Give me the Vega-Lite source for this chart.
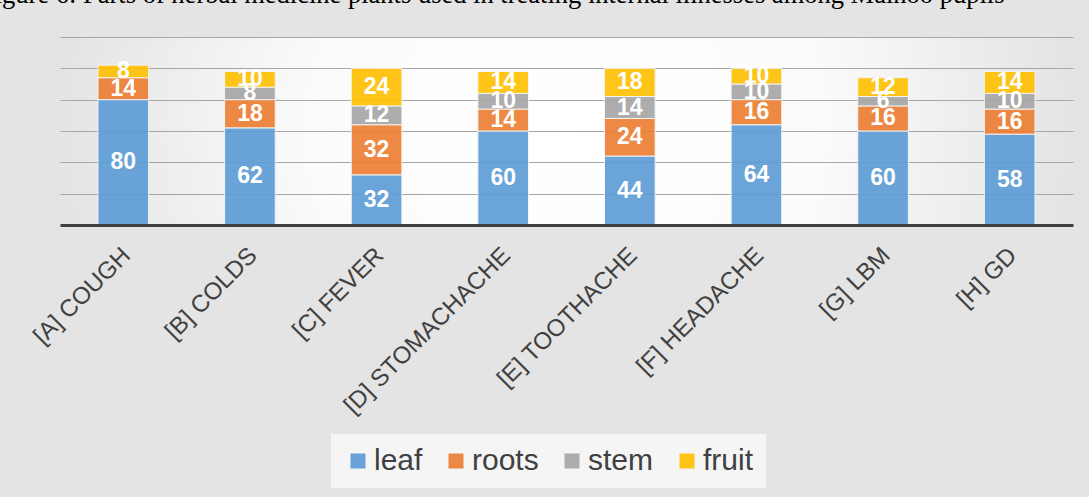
{
  "$schema": "https://vega.github.io/schema/vega-lite/v6.json",
  "width": 1013,
  "height": 188,
  "autosize": {"type": "none"},
  "padding": {"left": 60, "top": 37, "right": 16, "bottom": 272},
  "background": "#e4e4e4",
  "view": {
    "stroke": null,
    "fill": {
      "gradient": "radial",
      "x1": 0.5, "y1": 0.5, "r1": 0,
      "x2": 0.5, "y2": 0.5, "r2": 0.5,
      "stops": [
        {"offset": 0, "color": "#ffffff"},
        {"offset": 0.5, "color": "#fbfbfb"},
        {"offset": 1, "color": "#e4e4e4"}
      ]
    }
  },
  "title": {
    "text": "Figure 6: Parts of herbal medicine plants used in treating internal illnesses among Mainoo pupils",
    "font": "Liberation Serif",
    "fontSize": 26.5,
    "fontWeight": "normal",
    "color": "#000000",
    "anchor": "start",
    "frame": "group",
    "dx": -80,
    "offset": 7.5,
    "baseline": "alphabetic"
  },
  "data": {
    "values": [
      {"cat": "[A] COUGH", "part": "leaf", "k": 1, "value": 80},
      {"cat": "[A] COUGH", "part": "roots", "k": 2, "value": 14},
      {"cat": "[A] COUGH", "part": "fruit", "k": 4, "value": 8},
      {"cat": "[B] COLDS", "part": "leaf", "k": 1, "value": 62},
      {"cat": "[B] COLDS", "part": "roots", "k": 2, "value": 18},
      {"cat": "[B] COLDS", "part": "stem", "k": 3, "value": 8},
      {"cat": "[B] COLDS", "part": "fruit", "k": 4, "value": 10},
      {"cat": "[C] FEVER", "part": "leaf", "k": 1, "value": 32},
      {"cat": "[C] FEVER", "part": "roots", "k": 2, "value": 32},
      {"cat": "[C] FEVER", "part": "stem", "k": 3, "value": 12},
      {"cat": "[C] FEVER", "part": "fruit", "k": 4, "value": 24},
      {"cat": "[D] STOMACHACHE", "part": "leaf", "k": 1, "value": 60},
      {"cat": "[D] STOMACHACHE", "part": "roots", "k": 2, "value": 14},
      {"cat": "[D] STOMACHACHE", "part": "stem", "k": 3, "value": 10},
      {"cat": "[D] STOMACHACHE", "part": "fruit", "k": 4, "value": 14},
      {"cat": "[E] TOOTHACHE", "part": "leaf", "k": 1, "value": 44},
      {"cat": "[E] TOOTHACHE", "part": "roots", "k": 2, "value": 24},
      {"cat": "[E] TOOTHACHE", "part": "stem", "k": 3, "value": 14},
      {"cat": "[E] TOOTHACHE", "part": "fruit", "k": 4, "value": 18},
      {"cat": "[F] HEADACHE", "part": "leaf", "k": 1, "value": 64},
      {"cat": "[F] HEADACHE", "part": "roots", "k": 2, "value": 16},
      {"cat": "[F] HEADACHE", "part": "stem", "k": 3, "value": 10},
      {"cat": "[F] HEADACHE", "part": "fruit", "k": 4, "value": 10},
      {"cat": "[G] LBM", "part": "leaf", "k": 1, "value": 60},
      {"cat": "[G] LBM", "part": "roots", "k": 2, "value": 16},
      {"cat": "[G] LBM", "part": "stem", "k": 3, "value": 6},
      {"cat": "[G] LBM", "part": "fruit", "k": 4, "value": 12},
      {"cat": "[H] GD", "part": "leaf", "k": 1, "value": 58},
      {"cat": "[H] GD", "part": "roots", "k": 2, "value": 16},
      {"cat": "[H] GD", "part": "stem", "k": 3, "value": 10},
      {"cat": "[H] GD", "part": "fruit", "k": 4, "value": 14}
    ]
  },
  "encoding": {
    "x": {
      "field": "cat",
      "type": "nominal",
      "sort": null,
      "scale": {"paddingInner": 0.6, "paddingOuter": 0.3},
      "axis": {
        "title": null,
        "labelAngle": -45,
        "labelAlign": "right",
        "labelBaseline": "top",
        "labelFont": "Liberation Sans",
        "labelFontSize": 24,
        "labelColor": "#404040",
        "ticks": false,
        "tickSize": 0,
        "labelPadding": 18,
        "labelOffset": -5,
        "domainColor": "#404040",
        "domainWidth": 3,
        "labelLimit": 0,
        "grid": false,
        "zindex": 1
      }
    },
    "order": {"field": "k", "type": "quantitative"}
  },
  "layer": [
    {
      "mark": {"type": "bar", "opacity": 0.9, "stroke": "#f4f4f4", "strokeWidth": 1},
      "encoding": {
        "y": {
          "field": "value",
          "type": "quantitative",
          "stack": "zero",
          "scale": {"domain": [0, 120], "nice": false},
          "axis": {
            "title": null,
            "labels": false,
            "ticks": false,
            "domain": false,
            "grid": true,
            "gridColor": "#a6a6a6",
            "gridWidth": 1,
            "tickCount": 12,
            "values": [20, 40, 60, 80, 100, 120]
          }
        },
        "color": {
          "field": "part",
          "type": "nominal",
          "scale": {
            "domain": ["leaf", "roots", "stem", "fruit"],
            "range": ["#5B9BD5", "#ED7D31", "#A5A5A5", "#FFC000"]
          },
          "legend": {
            "orient": "none",
            "legendX": 271,
            "legendY": 397,
            "direction": "horizontal",
            "title": null,
            "symbolType": "square",
            "symbolSize": 256,
            "symbolStrokeColor": "#f4f4f4",
            "symbolStrokeWidth": 1,
            "labelFont": "Liberation Sans",
            "labelFontSize": 30,
            "labelColor": "#404040",
            "labelOffset": 1,
            "labelLimit": 0,
            "columnPadding": 18,
            "fillColor": "#f5f5f5",
            "padding": 12
          }
        }
      }
    },
    {
      "mark": {"type": "text", "color": "#ffffff", "font": "Liberation Sans", "fontWeight": "bold", "fontSize": 23, "baseline": "middle"},
      "encoding": {
        "y": {"field": "value", "type": "quantitative", "stack": "zero", "bandPosition": 0.5},
        "detail": {"field": "part", "type": "nominal"},
        "text": {"field": "value", "type": "quantitative"}
      }
    }
  ]
}
